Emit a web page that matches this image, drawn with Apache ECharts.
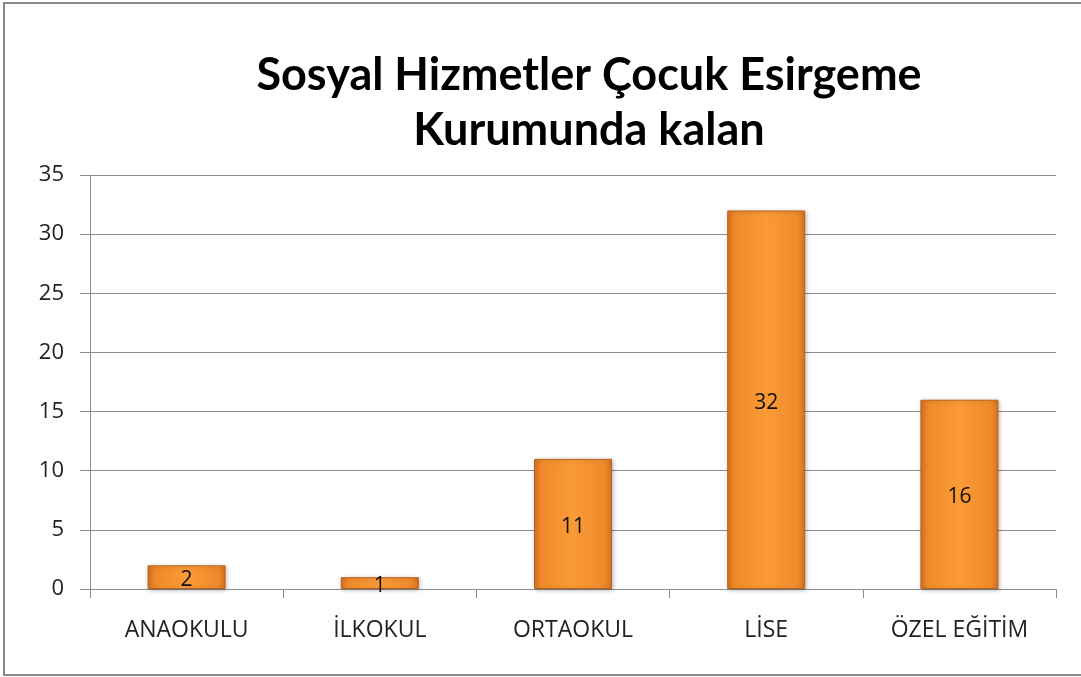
<!DOCTYPE html>
<html>
<head>
    <meta charset="utf-8">
    <title>Sosyal Hizmetler</title>
    <style>
        html, body { margin: 0; padding: 0; background: #fff; }
        #container { width: 1081px; height: 677px; }
    </style>
</head>
<body>
<div id="container"></div>
<script src="https://cdn.jsdelivr.net/npm/echarts@6/dist/echarts.min.js"></script>
<script>
    var categories = ["ANAOKULU", "İLKOKUL", "ORTAOKUL", "LİSE", "ÖZEL EĞİTİM"];
    var values = [2, 1, 11, 32, 16];
    var titleLines = ["Sosyal Hizmetler Çocuk Esirgeme", "Kurumunda kalan"];

    var myChart = echarts.init(document.getElementById("container"));

    var barColor = new echarts.graphic.LinearGradient(0, 0, 1, 0, [
        {offset: 0, color: '#d9731e'},
        {offset: 0.1, color: '#f08a2c'},
        {offset: 0.5, color: '#fa9b36'},
        {offset: 0.9, color: '#f08a2c'},
        {offset: 1, color: '#d9731e'}
    ]);

    var option = {
        backgroundColor: '#fff',
        textStyle: {fontFamily: 'Open Sans'},
        title: {
            text: titleLines.join('\n'),
            left: 584,
            textAlign: 'center',
            top: 43,
            textStyle: {
                fontFamily: 'Lato',
                fontWeight: 'bold',
                fontSize: 45,
                lineHeight: 55,
                color: '#000'
            }
        },
        graphic: [{
            type: 'rect',
            shape: {x: 4, y: 3, width: 1100, height: 672},
            style: {fill: 'none', stroke: '#8a8a8a', lineWidth: 2},
            silent: true
        }],
        grid: {
            left: 90,
            right: 25,
            top: 175,
            bottom: 88
        },
        xAxis: {
            type: 'category',
            data: categories,
            axisLine: {lineStyle: {color: '#8c8c8c', width: 1}},
            axisTick: {show: true, length: 9, lineStyle: {color: '#8c8c8c'}},
            axisLabel: {
                color: '#222',
                fontSize: 23,
                margin: 30,
                fontFamily: 'Open Sans'
            }
        },
        yAxis: {
            type: 'value',
            min: 0,
            max: 35,
            interval: 5,
            axisLine: {show: true, lineStyle: {color: '#8c8c8c'}},
            axisTick: {show: true, length: 10, lineStyle: {color: '#8c8c8c'}},
            axisLabel: {
                color: '#222',
                fontSize: 22,
                margin: 26,
                fontFamily: 'Open Sans'
            },
            splitLine: {lineStyle: {color: '#8c8c8c', width: 1}}
        },
        series: [{
            type: 'bar',
            data: values,
            barWidth: 78,
            itemStyle: {
                color: barColor,
                borderColor: '#b9621c',
                borderWidth: 1,
                shadowColor: 'rgba(0,0,0,0.25)',
                shadowBlur: 4,
                shadowOffsetX: 1,
                shadowOffsetY: 1
            },
            label: {
                show: true,
                position: 'inside',
                color: '#111',
                fontSize: 21,
                fontFamily: 'Open Sans',
                offset: [0, 3]
            }
        }]
    };

    myChart.setOption(option);
</script>
</body>
</html>
